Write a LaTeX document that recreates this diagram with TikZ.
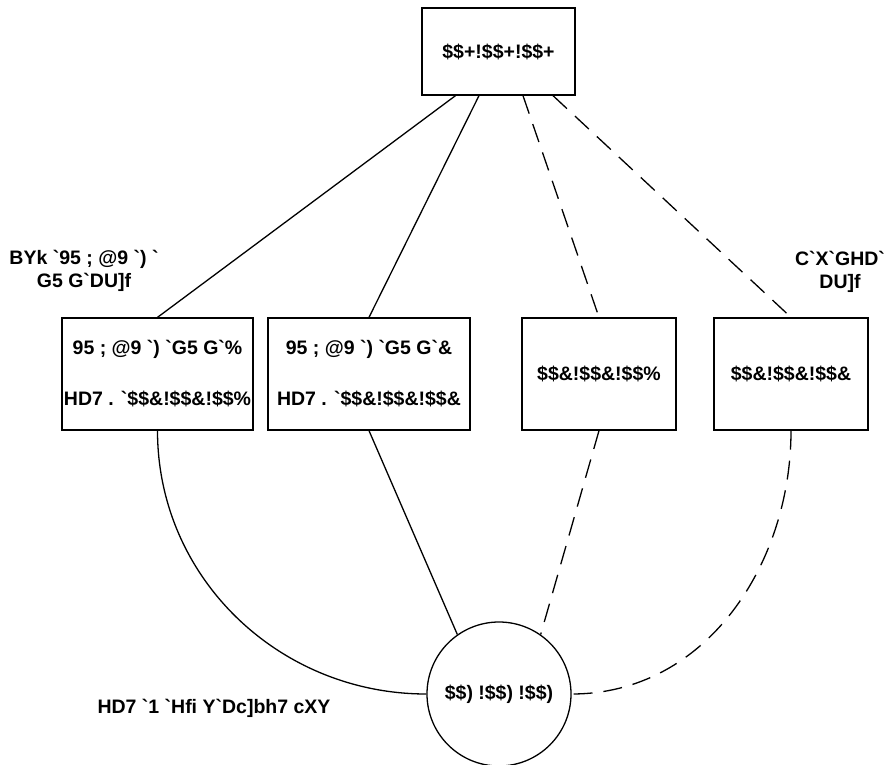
\documentclass[tikz,border=0pt]{standalone}
\usepackage{fontspec}
\setmainfont{Liberation Sans}[Ligatures=TeXOff]
\begin{document}
\begin{tikzpicture}[x=1pt,y=-1pt,
  every node/.style={font=\fontsize{19.5}{23}\selectfont\bfseries},
  box/.style={draw, line width=1.3pt, rectangle, inner sep=0pt, align=center},
  roundbox/.style={draw, line width=1.3pt, circle, inner sep=0pt, minimum size=144pt},
  solidedge/.style={line width=1.3pt},
  dashedge/.style={line width=1.3pt, dash pattern=on 19pt off 11pt}]
\useasboundingbox (0,0) rectangle (886,765);
\node[box, minimum width=153pt, minimum height=87pt] (top) at (498.5,51.5) {\$\$+!\$\$+!\$\$+};
\node[box, minimum width=191pt, minimum height=112pt] (b1) at (157.5,374) {95 ; @9 `) `G5 G`\%\\[28pt]HD7 . `\$\$\&!\$\$\&!\$\$\%};
\node[box, minimum width=202pt, minimum height=112pt] (b2) at (369,374) {95 ; @9 `) `G5 G`\&\\[28pt]HD7 . `\$\$\&!\$\$\&!\$\$\&};
\node[box, minimum width=154pt, minimum height=112pt] (b3) at (599,374) {\$\$\&!\$\$\&!\$\$\%};
\node[box, minimum width=154pt, minimum height=112pt] (b4) at (791,374) {\$\$\&!\$\$\&!\$\$\&};
\node[roundbox] (c) at (499,694) {\$\$) !\$\$) !\$\$)};
\node[align=center] (lblL) at (84,271) {BYk `95 ; @9 `) `\\G5 G`DU]f};
\node[align=center] (lblR) at (840,272) {C`X`GHD`\\DU]f};
\node (lblB) at (214,708) {HD7 `1 `Hfi Y`Dc]bh7 cXY};
\draw[solidedge] ([xshift=-43pt]top.south) -- (b1.north);
\draw[solidedge] ([xshift=-19.5pt]top.south) -- (b2.north);
\draw[dashedge] ([xshift=24.5pt]top.south) -- (b3.north);
\draw[dashedge] ([xshift=54.5pt]top.south) -- (b4.north);
\draw[solidedge] (b1.south) to[out=-90,in=180] (c.west);
\draw[solidedge] (b2.south) -- (c.125);
\draw[dashedge] (b3.south) -- (c.55);
\draw[dashedge] (b4.south) to[out=-90,in=0] (c.east);
\end{tikzpicture}
\end{document}
